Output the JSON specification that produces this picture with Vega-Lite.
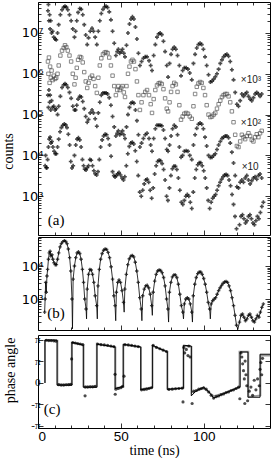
{
"$schema": "https://vega.github.io/schema/vega-lite/v6.json",
"padding": {"left": 0, "top": 1, "right": 4, "bottom": 2},
"background": "white",
"config": {
 "view": {"stroke": "black", "strokeWidth": 1},
 "axis": {"grid": false, "domain": false, "tickColor": "black", "tickWidth": 0.8, "labelColor": "black", "titleColor": "black", "labelFont": "Liberation Sans", "titleFont": "Liberation Serif", "labelFontSize": 13, "titleFontSize": 14, "titleFontWeight": "normal", "labelPadding": 1}
},
"datasets": {
 "c1": [{"t":6.0,"v":3.5e7,"c2":2.0e6,"c3":3.0e5},{"t":6.3,"v":5.0e7,"c2":1.0e6,"c3":1.5e5},{"t":6.6,"v":2.0e7,"c2":2.5e6,"c3":4.0e5},{"t":7.0,"v":2.8e7,"c2":6.0e5,"c3":2.0e5},{"t":7.3,"v":1.26e7,"c2":1.5e6,"c3":3.0e5},{"t":7.7,"v":2.0e7,"c2":8.0e5,"c3":1.3e5},{"t":8.2,"v":1.0e7,"c2":1.2e6,"c3":2.2e5},{"t":8.8,"v":1.1e7,"c2":7.0e5,"c3":1.5e5},{"t":9.5,"v":7.9e6,"c2":9.0e5,"c3":1.6e5},{"t":10.3,"v":7.1e6,"c2":7.5e5,"c3":1.3e5},{"t":11.0,"v":6.8e6,"c2":8.0e5,"c3":1.4e5},
 {"t":11.8,"v":1.0e7,"c2":1.0e6,"c3":1.0e5},{"t":12.5,"v":1.6e7,"c2":1.6e6,"c3":1.6e5},{"t":13.5,"v":2.8e7,"c2":2.8e6,"c3":2.8e5},{"t":14.5,"v":3.7e7,"c2":3.7e6,"c3":4.6e5},{"t":15.5,"v":4.3e7,"c2":4.3e6,"c3":5.4e5},{"t":16.3,"v":4.5e7,"c2":5.0e6,"c3":5.7e5},{"t":17.1,"v":4.3e7,"c2":4.5e6,"c3":5.4e5},{"t":18,"v":3.7e7,"c2":3.7e6,"c3":4.6e5},{"t":19,"v":2.8e7,"c2":2.8e6,"c3":3.5e5},{"t":20,"v":2.0e7,"c2":2.0e6,"c3":2.5e5},{"t":21,"v":1.26e7,"c2":1.0e6,"c3":1.6e5},{"t":22,"v":7.9e6,"c2":5.5e5,"c3":1.3e5},
 {"t":22.7,"v":1.1e7,"c2":8.0e5,"c3":1.3e5},{"t":23.4,"v":2.0e7,"c2":1.4e6,"c3":1.7e5},{"t":24.2,"v":3.2e7,"c2":2.2e6,"c3":2.4e5},{"t":25.2,"v":4.0e7,"c2":2.6e6,"c3":2.8e5},{"t":26.1,"v":3.8e7,"c2":2.5e6,"c3":2.7e5},{"t":27,"v":2.8e7,"c2":1.9e6,"c3":2.1e5},{"t":27.9,"v":1.6e7,"c2":1.1e6,"c3":1.4e5},{"t":28.8,"v":8.9e6,"c2":6.5e5,"c3":9.0e4},{"t":29.7,"v":5.2e6,"c2":4.5e5,"c3":6.5e4},
 {"t":30.5,"v":7.6e6,"c2":6.0e5,"c3":7.6e4},{"t":31.5,"v":1.1e7,"c2":8.0e5,"c3":1.1e5},{"t":32.6,"v":1.3e7,"c2":9.0e5,"c3":1.3e5},{"t":33.5,"v":1.1e7,"c2":7.5e5,"c3":1.1e5},{"t":34.5,"v":7.9e6,"c2":5.0e5,"c3":7.9e4},{"t":35.5,"v":5.2e6,"c2":3.4e5,"c3":5.2e4},
 {"t":36.4,"v":1.1e7,"c2":8.0e5,"c3":1.1e5},{"t":37.3,"v":2.0e7,"c2":1.6e6,"c3":2.0e5},{"t":38.2,"v":3.0e7,"c2":2.4e6,"c3":3.0e5},{"t":39.2,"v":3.8e7,"c2":3.0e6,"c3":3.4e5},{"t":40.2,"v":4.4e7,"c2":3.3e6,"c3":3.4e5},{"t":41.1,"v":4.5e7,"c2":3.4e6,"c3":3.4e5},{"t":42,"v":4.2e7,"c2":3.2e6,"c3":3.2e5},{"t":43,"v":3.3e7,"c2":2.5e6,"c3":2.6e5},{"t":44,"v":2.1e7,"c2":1.6e6,"c3":1.7e5},{"t":45,"v":1.1e7,"c2":9.0e5,"c3":9.0e4},{"t":46,"v":5.6e6,"c2":5.0e5,"c3":5.0e4},{"t":47,"v":2.8e6,"c2":3.0e5,"c3":3.0e4},
 {"t":47.8,"v":3.5e6,"c2":4.0e5,"c3":3.5e4},{"t":48.5,"v":4.0e6,"c2":5.0e5,"c3":4.0e4},{"t":49.3,"v":3.2e6,"c2":4.0e5,"c3":3.2e4},{"t":50.2,"v":3.5e6,"c2":4.5e5,"c3":3.5e4},{"t":51,"v":4.0e6,"c2":5.0e5,"c3":4.0e4},{"t":51.8,"v":3.2e6,"c2":3.5e5,"c3":3.2e4},{"t":52.5,"v":2.6e6,"c2":2.7e5,"c3":2.6e4},
 {"t":53.4,"v":5.0e6,"c2":5.0e5,"c3":5.0e4},{"t":54.3,"v":1.0e7,"c2":1.0e6,"c3":1.0e5},{"t":55.2,"v":1.66e7,"c2":1.5e6,"c3":1.5e5},{"t":56.1,"v":2.2e7,"c2":2.0e6,"c3":1.9e5},{"t":57,"v":2.5e7,"c2":2.2e6,"c3":2.0e5},{"t":57.9,"v":2.2e7,"c2":2.0e6,"c3":1.9e5},{"t":58.8,"v":1.4e7,"c2":1.3e6,"c3":1.3e5},{"t":59.7,"v":7.1e6,"c2":6.5e5,"c3":7.1e4},{"t":60.6,"v":3.2e6,"c2":3.0e5,"c3":3.2e4},{"t":61.5,"v":1.6e6,"c2":1.3e5,"c3":1.6e4},
 {"t":62.5,"v":2.0e6,"c2":2.0e5,"c3":2.0e4},{"t":63.6,"v":2.4e6,"c2":3.0e5,"c3":2.6e4},{"t":64.7,"v":2.6e6,"c2":3.6e5,"c3":3.2e4},{"t":65.8,"v":2.6e6,"c2":4.0e5,"c3":3.5e4},{"t":67,"v":2.1e6,"c2":3.0e5,"c3":2.6e4},{"t":68,"v":1.6e6,"c2":1.8e5,"c3":1.8e4},{"t":68.8,"v":1.2e6,"c2":1.1e5,"c3":1.26e4},
 {"t":69.8,"v":2.8e6,"c2":2.4e5,"c3":2.6e4},{"t":70.8,"v":5.2e6,"c2":4.0e5,"c3":4.5e4},{"t":71.8,"v":7.9e6,"c2":5.2e5,"c3":5.5e4},{"t":72.8,"v":9.5e6,"c2":5.8e5,"c3":5.5e4},{"t":73.7,"v":1.0e7,"c2":6.0e5,"c3":5.5e4},{"t":74.7,"v":9.1e6,"c2":5.6e5,"c3":5.3e4},{"t":75.7,"v":6.3e6,"c2":4.2e5,"c3":4.2e4},{"t":76.7,"v":3.5e6,"c2":2.5e5,"c3":2.6e4},{"t":77.7,"v":1.6e6,"c2":1.4e5,"c3":1.4e4},{"t":78.5,"v":8.3e5,"c2":1.2e5,"c3":1.26e4},
 {"t":79.4,"v":1.8e6,"c2":2.0e5,"c3":1.8e4},{"t":80.3,"v":3.0e6,"c2":3.6e5,"c3":3.0e4},{"t":81.2,"v":4.0e6,"c2":5.0e5,"c3":4.5e4},{"t":82.2,"v":4.5e6,"c2":6.0e5,"c3":5.5e4},{"t":83.2,"v":4.0e6,"c2":5.5e5,"c3":5.0e4},{"t":84.2,"v":2.8e6,"c2":3.6e5,"c3":3.2e4},{"t":85.3,"v":1.6e6,"c2":1.7e5,"c3":1.6e4},{"t":86.3,"v":8.9e5,"c2":7.5e4,"c3":9.0e3},
 {"t":87.3,"v":1.2e6,"c2":9.0e4,"c3":1.0e4},{"t":88.3,"v":1.4e6,"c2":1.05e5,"c3":1.26e4},{"t":89.4,"v":1.4e6,"c2":1.1e5,"c3":1.3e4},{"t":90.5,"v":1.3e6,"c2":1.05e5,"c3":1.26e4},{"t":91.6,"v":1.05e6,"c2":9.0e4,"c3":1.0e4},{"t":92.8,"v":7.1e5,"c2":7.9e4,"c3":7.9e3},
 {"t":93.8,"v":1.8e6,"c2":1.6e5,"c3":1.8e4},{"t":94.8,"v":3.0e6,"c2":3.2e5,"c3":3.2e4},{"t":95.8,"v":4.3e6,"c2":4.8e5,"c3":4.6e4},{"t":96.8,"v":5.2e6,"c2":5.8e5,"c3":5.8e4},{"t":97.8,"v":5.6e6,"c2":6.3e5,"c3":6.2e4},{"t":98.8,"v":5.2e6,"c2":6.0e5,"c3":5.8e4},{"t":99.8,"v":4.0e6,"c2":4.5e5,"c3":4.5e4},{"t":100.8,"v":2.6e6,"c2":3.0e5,"c3":2.8e4},{"t":101.8,"v":1.6e6,"c2":1.7e5,"c3":1.7e4},{"t":102.9,"v":9.5e5,"c2":1.0e5,"c3":1.0e4},{"t":104,"v":6.3e5,"c2":8.7e4,"c3":8.9e3},
 {"t":105,"v":6.6e5,"c2":9.0e4,"c3":9.0e3},{"t":106,"v":7.4e5,"c2":1.0e5,"c3":1.0e4},{"t":107,"v":8.5e5,"c2":1.1e5,"c3":1.1e4},{"t":108,"v":1.0e6,"c2":1.4e5,"c3":1.4e4},{"t":109,"v":1.3e6,"c2":1.8e5,"c3":1.8e4},{"t":110,"v":1.8e6,"c2":2.2e5,"c3":2.2e4},{"t":111,"v":2.2e6,"c2":2.7e5,"c3":2.6e4},{"t":112,"v":2.6e6,"c2":3.0e5,"c3":2.8e4},{"t":113,"v":2.9e6,"c2":3.2e5,"c3":3.0e4},{"t":114,"v":3.0e6,"c2":3.2e5,"c3":3.0e4},{"t":115,"v":2.7e6,"c2":2.8e5,"c3":2.7e4},{"t":116,"v":2.0e6,"c2":2.0e5,"c3":2.0e4},{"t":117,"v":1.26e6,"c2":1.2e5,"c3":1.2e4},{"t":118,"v":7.1e5,"c2":6.5e4,"c3":6.5e3},{"t":119,"v":3.5e5,"c2":3.2e4,"c3":3.2e3},{"t":120,"v":1.8e5,"c2":1.7e4,"c3":1.7e3},
 {"t":121,"v":1.6e5,"c2":1.6e4,"c3":1.6e3},{"t":122,"v":2.2e5,"c2":2.2e4,"c3":2.2e3},{"t":123,"v":3.2e5,"c2":3.2e4,"c3":2.5e3},{"t":124,"v":2.8e5,"c2":2.8e4,"c3":2.2e3},{"t":125,"v":3.2e5,"c2":2.5e4,"c3":2.8e3},{"t":126,"v":3.5e5,"c2":3.0e4,"c3":3.2e3},{"t":127,"v":2.8e5,"c2":3.5e4,"c3":2.5e3},{"t":128,"v":2.4e5,"c2":3.0e4,"c3":2.0e3},{"t":129,"v":2.2e5,"c2":2.4e4,"c3":2.4e3},{"t":130,"v":2.6e5,"c2":2.2e4,"c3":2.8e3},{"t":131,"v":3.2e5,"c2":2.8e4,"c3":3.0e3},{"t":132,"v":3.5e5,"c2":3.3e4,"c3":2.6e3},{"t":133,"v":3.2e5,"c2":2.8e4,"c3":3.2e3},{"t":134,"v":2.8e5,"c2":3.5e4,"c3":3.5e3},{"t":135,"v":3.2e5,"c2":4.0e4,"c3":2.8e3}],
 "d": [{"t":4.3,"v":5.6e3},{"t":4.6,"v":1.0e4},{"t":5.0,"v":5.0e3},{"t":5.4,"v":5.0e3},{"t":5.8,"v":7.9e3},{"t":6.3,"v":1.6e4},{"t":6.8,"v":2.5e4},{"t":7.3,"v":2.8e4},{"t":7.8,"v":2.0e4},{"t":8.4,"v":2.2e4},{"t":9.0,"v":1.6e4},{"t":9.7,"v":1.26e4},{"t":10.4,"v":1.1e4},{"t":11.1,"v":1.1e4},{"t":11.8,"v":1.6e4},{"t":12.5,"v":2.5e4},{"t":13.3,"v":3.8e4},{"t":14.1,"v":4.8e4},{"t":15,"v":5.5e4},{"t":15.9,"v":5.9e4},{"t":16.7,"v":5.6e4},{"t":17.5,"v":4.8e4},{"t":18.3,"v":3.3e4},{"t":19.1,"v":1.8e4},{"t":19.8,"v":7.1e3},{"t":20.5,"v":4.9e3},{"t":21.2,"v":5.6e3},{"t":22,"v":1.0e4},{"t":22.8,"v":1.8e4},{"t":23.6,"v":2.5e4},{"t":24.4,"v":2.7e4},{"t":25.2,"v":2.4e4},{"t":26,"v":1.6e4},{"t":26.8,"v":7.9e3},{"t":27.5,"v":5.6e3},{"t":28.2,"v":4.6e3},{"t":29,"v":4.4e3},{"t":29.7,"v":5.0e3},{"t":30.5,"v":5.6e3},{"t":31.3,"v":7.9e3},{"t":32.1,"v":7.6e3},{"t":32.9,"v":5.6e3},{"t":33.7,"v":4.2e3},{"t":34.5,"v":3.55e3},{"t":35.4,"v":3.3e3},{"t":36.2,"v":4.0e3},{"t":37,"v":7.9e3},{"t":37.8,"v":1.6e4},{"t":38.7,"v":2.4e4},{"t":39.6,"v":3.0e4},{"t":40.5,"v":3.3e4},{"t":41.4,"v":3.2e4},{"t":42.3,"v":2.6e4},{"t":43.2,"v":1.8e4},{"t":44.1,"v":9.5e3},{"t":45,"v":4.0e3},{"t":45.8,"v":3.2e3},{"t":46.5,"v":2.95e3},{"t":47.3,"v":3.2e3},{"t":48.1,"v":3.55e3},{"t":48.9,"v":3.8e3},{"t":49.8,"v":3.3e3},{"t":50.7,"v":2.8e3},{"t":51.6,"v":2.5e3},{"t":52.4,"v":3.0e3},{"t":53.3,"v":5.6e3},{"t":54.2,"v":1.1e4},{"t":55.1,"v":1.66e4},{"t":56,"v":2.0e4},{"t":56.9,"v":2.1e4},{"t":57.8,"v":1.9e4},{"t":58.7,"v":1.3e4},{"t":59.6,"v":7.1e3},{"t":60.5,"v":3.2e3},{"t":61.4,"v":1.26e3},{"t":62.3,"v":1.0e3},{"t":63.2,"v":1.4e3},{"t":64.1,"v":2.0e3},{"t":65,"v":2.5e3},{"t":65.9,"v":2.6e3},{"t":66.8,"v":2.2e3},{"t":67.7,"v":1.4e3},{"t":68.6,"v":8.9e2},{"t":69.5,"v":1.6e3},{"t":70.4,"v":3.5e3},{"t":71.3,"v":5.6e3},{"t":72.2,"v":7.1e3},{"t":73.1,"v":7.6e3},{"t":74,"v":7.4e3},{"t":74.9,"v":6.3e3},{"t":75.8,"v":4.5e3},{"t":76.7,"v":2.5e3},{"t":77.6,"v":1.0e3},{"t":78.4,"v":7.9e2},{"t":79.3,"v":1.6e3},{"t":80.2,"v":3.2e3},{"t":81.1,"v":4.7e3},{"t":82,"v":5.4e3},{"t":82.9,"v":5.4e3},{"t":83.8,"v":4.5e3},{"t":84.7,"v":2.8e3},{"t":85.6,"v":1.4e3},{"t":86.5,"v":7.1e2},{"t":87.4,"v":6.3e2},{"t":88.3,"v":7.9e2},{"t":89.2,"v":1.0e3},{"t":90.1,"v":1.1e3},{"t":91,"v":1.0e3},{"t":91.9,"v":7.1e2},{"t":92.8,"v":5.0e2},{"t":93.7,"v":1.26e3},{"t":94.6,"v":2.8e3},{"t":95.5,"v":4.5e3},{"t":96.4,"v":5.9e3},{"t":97.3,"v":6.6e3},{"t":98.2,"v":6.6e3},{"t":99.1,"v":5.6e3},{"t":100,"v":4.2e3},{"t":100.9,"v":2.8e3},{"t":101.8,"v":1.6e3},{"t":102.7,"v":7.9e2},{"t":103.6,"v":5.0e2},{"t":104.5,"v":7.1e2},{"t":105.4,"v":8.9e2},{"t":106.3,"v":1.0e3},{"t":107.2,"v":1.1e3},{"t":108.1,"v":1.4e3},{"t":109,"v":1.8e3},{"t":109.9,"v":2.2e3},{"t":110.8,"v":2.6e3},{"t":111.7,"v":3.0e3},{"t":112.6,"v":3.3e3},{"t":113.5,"v":3.4e3},{"t":114.4,"v":3.2e3},{"t":115.3,"v":2.5e3},{"t":116.2,"v":1.8e3},{"t":117.1,"v":1.1e3},{"t":118,"v":6.3e2},{"t":118.9,"v":3.2e2},{"t":119.8,"v":1.6e2},{"t":121.6,"v":2.0e2},{"t":122.5,"v":3.2e2},{"t":123.4,"v":3.5e2},{"t":124.3,"v":2.8e2},{"t":125.2,"v":2.2e2},{"t":126.1,"v":2.5e2},{"t":127,"v":3.2e2},{"t":127.9,"v":3.5e2},{"t":128.8,"v":2.8e2},{"t":129.7,"v":2.2e2},{"t":130.6,"v":2.0e2},{"t":131.5,"v":2.5e2},{"t":132.4,"v":3.2e2},{"t":133.3,"v":2.8e2},{"t":134.2,"v":4.0e2},{"t":135.1,"v":5.6e2},{"t":136,"v":7.1e2}],
 "b": [{"t":4.0,"v":4.0e2},{"t":4.3,"v":1.0e3},{"t":4.6,"v":3.2e3},{"t":5.0,"v":1.6e3},{"t":5.4,"v":5.0e3},{"t":5.8,"v":7.9e3},{"t":6.3,"v":1.6e4},{"t":6.8,"v":2.5e4},{"t":7.3,"v":2.8e4},{"t":7.8,"v":2.0e4},{"t":8.4,"v":2.2e4},{"t":9.0,"v":1.6e4},{"t":9.7,"v":1.26e4},{"t":10.4,"v":1.1e4},{"t":11.1,"v":1.1e4},{"t":11.8,"v":1.6e4},{"t":12.5,"v":2.5e4},{"t":13.3,"v":3.8e4},{"t":14.1,"v":4.8e4},{"t":15,"v":5.5e4},{"t":15.9,"v":5.9e4},{"t":16.7,"v":5.6e4},{"t":17.5,"v":4.8e4},{"t":18.3,"v":3.3e4},{"t":19.1,"v":1.8e4},{"t":19.8,"v":7.1e3},{"t":20.5,"v":1.0e3},{"t":20.8,"v":1.25e2,"k":"f"},{"t":21.2,"v":4.0e3},{"t":22,"v":1.0e4},{"t":22.8,"v":1.8e4},{"t":23.6,"v":2.5e4},{"t":24.4,"v":2.7e4},{"t":25.2,"v":2.4e4},{"t":26,"v":1.6e4},{"t":26.8,"v":7.9e3},{"t":27.5,"v":3.2e3},{"t":28.2,"v":1.0e3},{"t":29,"v":5.0e2},{"t":29.3,"v":2.5e2,"k":"f"},{"t":29.7,"v":2.0e3},{"t":30.5,"v":5.6e3},{"t":31.3,"v":7.9e3},{"t":32.1,"v":7.6e3},{"t":32.9,"v":5.6e3},{"t":33.7,"v":3.2e3},{"t":34.5,"v":1.26e3},{"t":35.4,"v":6.3e2},{"t":35.8,"v":2.5e2,"k":"f"},{"t":36.2,"v":2.5e3},{"t":37,"v":7.9e3},{"t":37.8,"v":1.6e4},{"t":38.7,"v":2.4e4},{"t":39.6,"v":3.0e4},{"t":40.5,"v":3.3e4},{"t":41.4,"v":3.2e4},{"t":42.3,"v":2.6e4},{"t":43.2,"v":1.8e4},{"t":44.1,"v":9.5e3},{"t":45,"v":4.0e3},{"t":45.8,"v":1.26e3},{"t":46.5,"v":6.3e2},{"t":46.9,"v":2.2e2,"k":"f"},{"t":47.3,"v":1.6e3},{"t":48.1,"v":3.2e3},{"t":48.9,"v":3.8e3},{"t":49.8,"v":3.2e3},{"t":50.7,"v":1.8e3},{"t":51.6,"v":7.9e2},{"t":52.0,"v":4.0e2,"k":"f"},{"t":52.4,"v":2.0e3},{"t":53.3,"v":5.6e3},{"t":54.2,"v":1.1e4},{"t":55.1,"v":1.66e4},{"t":56,"v":2.0e4},{"t":56.9,"v":2.1e4},{"t":57.8,"v":1.9e4},{"t":58.7,"v":1.3e4},{"t":59.6,"v":7.1e3},{"t":60.5,"v":3.2e3},{"t":61.4,"v":1.1e3},{"t":62.3,"v":5.0e2},{"t":62.7,"v":2.2e2,"k":"f"},{"t":63.2,"v":1.26e3},{"t":64.1,"v":2.0e3},{"t":65,"v":2.5e3},{"t":65.9,"v":2.6e3},{"t":66.8,"v":2.2e3},{"t":67.7,"v":1.4e3},{"t":68.6,"v":6.3e2},{"t":69.0,"v":3.2e2,"k":"f"},{"t":69.5,"v":1.6e3},{"t":70.4,"v":3.5e3},{"t":71.3,"v":5.6e3},{"t":72.2,"v":7.1e3},{"t":73.1,"v":7.6e3},{"t":74,"v":7.4e3},{"t":74.9,"v":6.3e3},{"t":75.8,"v":4.5e3},{"t":76.7,"v":2.5e3},{"t":77.6,"v":1.0e3},{"t":78.4,"v":5.0e2},{"t":78.8,"v":2.0e2,"k":"f"},{"t":79.3,"v":1.6e3},{"t":80.2,"v":3.2e3},{"t":81.1,"v":4.7e3},{"t":82,"v":5.4e3},{"t":82.9,"v":5.4e3},{"t":83.8,"v":4.5e3},{"t":84.7,"v":2.8e3},{"t":85.6,"v":1.4e3},{"t":86.5,"v":6.3e2},{"t":87.4,"v":4.0e2},{"t":87.8,"v":2.5e2,"k":"f"},{"t":88.3,"v":7.1e2},{"t":89.2,"v":1.0e3},{"t":90.1,"v":1.1e3},{"t":91,"v":1.0e3},{"t":91.9,"v":7.1e2},{"t":92.8,"v":4.0e2},{"t":93.2,"v":2.0e2,"k":"f"},{"t":93.7,"v":1.26e3},{"t":94.6,"v":2.8e3},{"t":95.5,"v":4.5e3},{"t":96.4,"v":5.9e3},{"t":97.3,"v":6.6e3},{"t":98.2,"v":6.6e3},{"t":99.1,"v":5.6e3},{"t":100,"v":4.2e3},{"t":100.9,"v":2.8e3},{"t":101.8,"v":1.6e3},{"t":102.7,"v":7.9e2},{"t":103.6,"v":5.0e2},{"t":104.0,"v":2.5e2,"k":"f"},{"t":104.5,"v":7.1e2},{"t":105.4,"v":8.9e2},{"t":106.3,"v":1.0e3},{"t":107.2,"v":1.1e3},{"t":108.1,"v":1.4e3},{"t":109,"v":1.8e3},{"t":109.9,"v":2.2e3},{"t":110.8,"v":2.6e3},{"t":111.7,"v":3.0e3},{"t":112.6,"v":3.3e3},{"t":113.5,"v":3.4e3},{"t":114.4,"v":3.2e3},{"t":115.3,"v":2.5e3},{"t":116.2,"v":1.8e3},{"t":117.1,"v":1.1e3},{"t":118,"v":6.3e2},{"t":118.9,"v":3.2e2},{"t":119.8,"v":1.6e2},{"t":120.6,"v":1.2e2,"k":"f"},{"t":121.6,"v":2.0e2},{"t":122.5,"v":3.2e2},{"t":123.4,"v":3.5e2},{"t":124.3,"v":2.8e2},{"t":125.2,"v":2.2e2},{"t":126.1,"v":2.5e2},{"t":127,"v":3.2e2},{"t":127.9,"v":3.5e2},{"t":128.8,"v":2.8e2},{"t":129.7,"v":2.2e2},{"t":130.6,"v":2.0e2},{"t":131.5,"v":2.5e2},{"t":132.4,"v":3.2e2},{"t":133.3,"v":2.8e2},{"t":134.2,"v":4.0e2},{"t":135.1,"v":5.6e2},{"t":136,"v":7.1e2}],
 "cline": [{"t":4.2,"p":0},{"t":4.2,"p":3.14},{"t":11.5,"p":3.14},{"t":11.5,"p":-0.16},{"t":20.5,"p":-0.16},{"t":20.5,"p":2.98},{"t":27.3,"p":2.76},{"t":27.3,"p":-0.31},{"t":35.6,"p":-0.31},{"t":35.6,"p":2.83},{"t":46.5,"p":2.64},{"t":46.5,"p":-0.41},{"t":51.4,"p":-0.25},{"t":51.4,"p":2.83},{"t":62,"p":2.64},{"t":62,"p":-0.5},{"t":69,"p":-0.35},{"t":69,"p":2.76},{"t":78,"p":2.26},{"t":78,"p":-0.47},{"t":87.7,"p":-0.38},{"t":87.7,"p":2.76},{"t":92.5,"p":2.7},{"t":92.5,"p":-0.94},{"t":95,"p":-0.63},{"t":97,"p":-0.47},{"t":100,"p":-0.31},{"t":103,"p":-0.63},{"t":106,"p":-1.1},{"t":109,"p":-0.94},{"t":112,"p":-0.79},{"t":115,"p":-0.63},{"t":118,"p":-0.47},{"t":121,"p":-0.31},{"t":122,"p":-0.31},{"t":122,"p":2.26},{"t":126.7,"p":2.26},{"t":126.7,"p":-1.04},{"t":134,"p":-1.04},{"t":134,"p":2.1},{"t":140,"p":2.1}],
 "cgray": [{"t":4.2,"p":0},{"t":4.2,"p":3.1},{"t":11.8,"p":3.1},{"t":11.8,"p":-0.1},{"t":20.3,"p":-0.1},{"t":20.3,"p":2.95},{"t":27.6,"p":2.8},{"t":27.6,"p":-0.25},{"t":35.4,"p":-0.25},{"t":35.4,"p":2.88},{"t":46.8,"p":2.6},{"t":46.8,"p":-0.35},{"t":51.6,"p":-0.3},{"t":51.6,"p":2.8},{"t":62.2,"p":2.6},{"t":62.2,"p":-0.45},{"t":69.2,"p":-0.3},{"t":69.2,"p":2.7},{"t":78.2,"p":2.3},{"t":78.2,"p":-0.45},{"t":87.9,"p":-0.35},{"t":87.9,"p":2.7},{"t":92.7,"p":2.65},{"t":92.7,"p":-0.7},{"t":100,"p":-0.4},{"t":106,"p":-0.95},{"t":112,"p":-0.75},{"t":121.5,"p":-0.35},{"t":121.5,"p":2.3},{"t":127,"p":2.3},{"t":127,"p":-1.0},{"t":134.3,"p":-0.9},{"t":134.3,"p":2.0},{"t":140,"p":2.0}],
 "cdots": [{"t":5,"p":3.12},{"t":6.5,"p":3.1},{"t":8,"p":3.1},{"t":9.5,"p":3.08},{"t":10.8,"p":3.05},{"t":12.5,"p":-0.12},{"t":14,"p":-0.15},{"t":15.5,"p":-0.15},{"t":17,"p":-0.13},{"t":18.5,"p":-0.12},{"t":19.8,"p":-0.1},{"t":20.3,"p":1.76},{"t":21,"p":2.95},{"t":22.5,"p":2.92},{"t":24,"p":2.88},{"t":25.5,"p":2.85},{"t":27,"p":2.8},{"t":28.4,"p":-0.94},{"t":28.5,"p":-0.3},{"t":30,"p":-0.3},{"t":31.5,"p":-0.28},{"t":33,"p":-0.28},{"t":34.5,"p":-0.25},{"t":36,"p":2.85},{"t":38,"p":2.8},{"t":40,"p":2.78},{"t":42,"p":2.75},{"t":44,"p":2.7},{"t":45.8,"p":2.66},{"t":46.5,"p":0.63},{"t":46.6,"p":-0.82},{"t":47,"p":-0.45},{"t":48.5,"p":-0.4},{"t":50,"p":-0.35},{"t":51,"p":-0.25},{"t":51.9,"p":0.5},{"t":52.5,"p":2.8},{"t":54.5,"p":2.78},{"t":56.5,"p":2.75},{"t":58.5,"p":2.7},{"t":60.5,"p":2.66},{"t":62.5,"p":-0.5},{"t":64,"p":-0.48},{"t":65.5,"p":-0.45},{"t":67,"p":-0.4},{"t":68.5,"p":-0.35},{"t":69.5,"p":2.75},{"t":71.5,"p":2.6},{"t":73.5,"p":2.5},{"t":75.5,"p":2.4},{"t":77.5,"p":2.3},{"t":79,"p":-0.47},{"t":81,"p":-0.45},{"t":83,"p":-0.42},{"t":85,"p":-0.4},{"t":87,"p":-0.38},{"t":88,"p":2.6},{"t":88.5,"p":2.2},{"t":89.5,"p":2.45},{"t":90.5,"p":2.0},{"t":91,"p":2.7},{"t":91.8,"p":1.9},{"t":87.5,"p":-1.38},{"t":93,"p":-1.5},{"t":94,"p":-0.6},{"t":95.5,"p":-0.55},{"t":97,"p":-0.45},{"t":98.5,"p":-0.4},{"t":100,"p":-0.35},{"t":101.5,"p":-0.45},{"t":103,"p":-0.65},{"t":104.5,"p":-0.9},{"t":106,"p":-1.1},{"t":107.5,"p":-1.0},{"t":109,"p":-0.95},{"t":110.5,"p":-0.85},{"t":112,"p":-0.8},{"t":113.5,"p":-0.7},{"t":115,"p":-0.65},{"t":116.5,"p":-0.55},{"t":118,"p":-0.5},{"t":119.5,"p":-0.4},{"t":121,"p":-0.3},{"t":122.5,"p":2.2},{"t":123,"p":1.9},{"t":123.5,"p":1.4},{"t":124,"p":0.9},{"t":124.5,"p":0.3},{"t":125,"p":1.6},{"t":125.5,"p":0.6},{"t":126,"p":-0.2},{"t":121.8,"p":-1.15},{"t":124.8,"p":-1.5},{"t":126.5,"p":-1.3},{"t":127.5,"p":-0.6},{"t":128.5,"p":-0.3},{"t":129.5,"p":-0.9},{"t":130.5,"p":0.2},{"t":131.5,"p":-0.5},{"t":132.5,"p":0.3},{"t":133.5,"p":-0.2},{"t":134,"p":1.0},{"t":134.5,"p":1.5},{"t":135,"p":0.6},{"t":135.5,"p":1.8}],
 "labA": [{"t":10.9,"v":263,"s":"(a)"}],
 "labS": [{"t":128.5,"v":7.0e5,"s":"×10³"},{"t":128.5,"v":6.2e4,"s":"×10²"},{"t":128,"v":5.2e3,"s":"×10"}],
 "labB": [{"t":10.9,"v":380,"s":"(b)"}],
 "labC": [{"t":8.5,"p":-1.89,"s":"(c)"}]
},
"vconcat": [
 {
  "width": 232, "height": 233,
  "resolve": {"axis": {"x": "independent", "y": "independent"}},
  "layer": [
   {"data": {"name": "c1"}, "transform": [{"fold": ["v", "c3"], "as": ["s", "y"]}], "mark": {"type": "point", "shape": "cross", "filled": true, "size": 16, "color": "black"},
    "encoding": {
     "x": {"field": "t", "type": "quantitative", "scale": {"domain": [0, 140], "nice": false, "zero": false}, "axis": {"orient": "bottom", "values": [0, 50, 100], "labels": false, "tickSize": -5, "title": null}},
     "y": {"field": "y", "type": "quantitative", "scale": {"type": "log", "domain": [112, 5.75e7], "nice": false}, "axis": {"orient": "left", "values": [1e3, 1e4, 1e5, 1e6, 1e7], "tickSize": -5, "labelFont": "DejaVu Sans", "labelFontSize": 13, "labelPadding": 0, "labelExpr": "datum.value == 1e7 ? '10⁷' : datum.value == 1e6 ? '10⁶' : datum.value == 1e5 ? '10⁵' : datum.value == 1e4 ? '10⁴' : datum.value == 1e3 ? '10³' : ''", "title": "counts", "titleX": -23, "titleY": 149}}}},
   {"data": {"name": "d"}, "mark": {"type": "point", "shape": "cross", "filled": true, "size": 16, "color": "black"},
    "encoding": {
     "x": {"field": "t", "type": "quantitative", "scale": {"domain": [0, 140], "nice": false, "zero": false}, "axis": {"orient": "bottom", "values": [10,20,30,40,60,70,80,90,110,120,130], "labels": false, "tickSize": -3, "title": null}},
     "y": {"field": "v", "type": "quantitative", "scale": {"type": "log", "domain": [112, 5.75e7], "nice": false}, "axis": {"orient": "left", "values": [200,300,400,500,600,700,800,900,2000,3000,4000,5000,6000,7000,8000,9000,2e4,3e4,4e4,5e4,6e4,7e4,8e4,9e4,2e5,3e5,4e5,5e5,6e5,7e5,8e5,9e5,2e6,3e6,4e6,5e6,6e6,7e6,8e6,9e6,2e7,3e7,4e7,5e7], "labels": false, "tickSize": -3, "title": null}}}},
   {"data": {"name": "c1"}, "mark": {"type": "point", "shape": "square", "filled": false, "size": 12, "strokeWidth": 0.9, "color": "#444"},
    "encoding": {
     "x": {"field": "t", "type": "quantitative", "scale": {"domain": [0, 140], "nice": false, "zero": false}, "axis": {"orient": "top", "values": [0, 50, 100], "labels": false, "tickSize": -5, "title": null}},
     "y": {"field": "c2", "type": "quantitative", "scale": {"type": "log", "domain": [112, 5.75e7], "nice": false}, "axis": {"orient": "right", "values": [1e3, 1e4, 1e5, 1e6, 1e7], "labels": false, "tickSize": -5, "title": null}}}},
   {"data": {"name": "c1"}, "mark": {"type": "point", "opacity": 0},
    "encoding": {
     "x": {"field": "t", "type": "quantitative", "scale": {"domain": [0, 140], "nice": false, "zero": false}, "axis": {"orient": "top", "values": [10,20,30,40,60,70,80,90,110,120,130], "labels": false, "tickSize": -3, "title": null}},
     "y": {"field": "v", "type": "quantitative", "scale": {"type": "log", "domain": [112, 5.75e7], "nice": false}, "axis": {"orient": "right", "values": [200,300,400,500,600,700,800,900,2000,3000,4000,5000,6000,7000,8000,9000,2e4,3e4,4e4,5e4,6e4,7e4,8e4,9e4,2e5,3e5,4e5,5e5,6e5,7e5,8e5,9e5,2e6,3e6,4e6,5e6,6e6,7e6,8e6,9e6,2e7,3e7,4e7,5e7], "labels": false, "tickSize": -3, "title": null}}}},
   {"data": {"name": "labA"}, "mark": {"type": "text", "font": "Liberation Serif", "fontSize": 15, "color": "black"},
    "encoding": {
     "x": {"field": "t", "type": "quantitative", "scale": {"domain": [0, 140], "nice": false, "zero": false}, "axis": null},
     "y": {"field": "v", "type": "quantitative", "scale": {"type": "log", "domain": [112, 5.75e7], "nice": false}, "axis": null},
     "text": {"field": "s"}}},
   {"data": {"name": "labS"}, "mark": {"type": "text", "font": "Liberation Sans", "fontSize": 10, "color": "#222"},
    "encoding": {
     "x": {"field": "t", "type": "quantitative", "scale": {"domain": [0, 140], "nice": false, "zero": false}, "axis": null},
     "y": {"field": "v", "type": "quantitative", "scale": {"type": "log", "domain": [112, 5.75e7], "nice": false}, "axis": null},
     "text": {"field": "s"}}}
  ]
 },
 {
  "width": 232, "height": 93,
  "resolve": {"axis": {"x": "independent", "y": "independent"}},
  "layer": [
   {"data": {"name": "b"}, "mark": {"type": "line", "color": "black", "strokeWidth": 0.8},
    "encoding": {
     "x": {"field": "t", "type": "quantitative", "scale": {"domain": [0, 140], "nice": false, "zero": false}, "axis": {"orient": "bottom", "values": [0, 50, 100], "labels": false, "tickSize": -5, "title": null}},
     "y": {"field": "v", "type": "quantitative", "scale": {"type": "log", "domain": [115, 7.6e4], "nice": false}, "axis": {"orient": "left", "values": [1e3, 1e4], "tickSize": -5, "labelFont": "DejaVu Sans", "labelFontSize": 13, "labelPadding": 0, "labelExpr": "datum.value == 1e4 ? '10⁴' : datum.value == 1e3 ? '10³' : ''", "title": null}}}},
   {"data": {"name": "b"}, "transform": [{"filter": "datum.k != 'f'"}], "mark": {"type": "point", "shape": "cross", "filled": true, "size": 12, "color": "black"},
    "encoding": {
     "x": {"field": "t", "type": "quantitative", "scale": {"domain": [0, 140], "nice": false, "zero": false}, "axis": {"orient": "bottom", "values": [10,20,30,40,60,70,80,90,110,120,130], "labels": false, "tickSize": -3, "title": null}},
     "y": {"field": "v", "type": "quantitative", "scale": {"type": "log", "domain": [115, 7.6e4], "nice": false}, "axis": {"orient": "left", "values": [200,300,400,500,600,700,800,900,2000,3000,4000,5000,6000,7000,8000,9000,2e4,3e4,4e4,5e4,6e4,7e4], "labels": false, "tickSize": -3, "title": null}}}},
   {"data": {"name": "b"}, "mark": {"type": "point", "opacity": 0},
    "encoding": {
     "x": {"field": "t", "type": "quantitative", "scale": {"domain": [0, 140], "nice": false, "zero": false}, "axis": null},
     "y": {"field": "v", "type": "quantitative", "scale": {"type": "log", "domain": [115, 7.6e4], "nice": false}, "axis": {"orient": "right", "values": [1e3, 1e4], "labels": false, "tickSize": -5, "title": null}}}},
   {"data": {"name": "b"}, "mark": {"type": "point", "opacity": 0},
    "encoding": {
     "x": {"field": "t", "type": "quantitative", "scale": {"domain": [0, 140], "nice": false, "zero": false}, "axis": null},
     "y": {"field": "v", "type": "quantitative", "scale": {"type": "log", "domain": [115, 7.6e4], "nice": false}, "axis": {"orient": "right", "values": [200,300,400,500,600,700,800,900,2000,3000,4000,5000,6000,7000,8000,9000,2e4,3e4,4e4,5e4,6e4,7e4], "labels": false, "tickSize": -3, "title": null}}}},
   {"data": {"name": "labB"}, "mark": {"type": "text", "font": "Liberation Serif", "fontSize": 15, "color": "black"},
    "encoding": {
     "x": {"field": "t", "type": "quantitative", "scale": {"domain": [0, 140], "nice": false, "zero": false}, "axis": null},
     "y": {"field": "v", "type": "quantitative", "scale": {"type": "log", "domain": [115, 7.6e4], "nice": false}, "axis": null},
     "text": {"field": "s"}}}
  ]
 },
 {
  "width": 232, "height": 93,
  "resolve": {"axis": {"x": "independent", "y": "independent"}},
  "layer": [
   {"data": {"name": "cgray"}, "mark": {"type": "line", "color": "#999", "strokeWidth": 1.6},
    "encoding": {
     "order": {"value": null},
     "x": {"field": "t", "type": "quantitative", "scale": {"domain": [0, 140], "nice": false, "zero": false}, "axis": {"orient": "bottom", "values": [0, 50, 100], "tickSize": -5, "labelPadding": 6, "labelFontSize": 13.5, "title": "time (ns)", "titlePadding": 1}},
     "y": {"field": "p", "type": "quantitative", "scale": {"domain": [-3.288, 3.506], "nice": false, "zero": false}, "axis": {"orient": "left", "values": [-3.14159, -1.5708, 0, 1.5708, 3.14159], "tickSize": -5, "labelFont": "Liberation Serif", "labelFontSize": 11, "labelPadding": 3, "labelExpr": "datum.value > 1 ? 'π' : datum.value < -1 ? '-π' : datum.value == 0 ? '0' : ''", "title": "phase angle", "titleX": -21, "titleY": 35}}}},
   {"data": {"name": "cline"}, "mark": {"type": "line", "color": "black", "strokeWidth": 1},
    "encoding": {
     "order": {"value": null},
     "x": {"field": "t", "type": "quantitative", "scale": {"domain": [0, 140], "nice": false, "zero": false}, "axis": {"orient": "bottom", "values": [10,20,30,40,60,70,80,90,110,120,130], "labels": false, "tickSize": -3, "title": null}},
     "y": {"field": "p", "type": "quantitative", "scale": {"domain": [-3.288, 3.506], "nice": false, "zero": false}, "axis": {"orient": "right", "values": [-3.14159, -1.5708, 0, 1.5708, 3.14159], "labels": false, "tickSize": -5, "title": null}}}},
   {"data": {"name": "cdots"}, "mark": {"type": "point", "shape": "circle", "filled": true, "size": 10, "color": "black"},
    "encoding": {
     "x": {"field": "t", "type": "quantitative", "scale": {"domain": [0, 140], "nice": false, "zero": false}, "axis": null},
     "y": {"field": "p", "type": "quantitative", "scale": {"domain": [-3.288, 3.506], "nice": false, "zero": false}, "axis": null}}},
   {"data": {"name": "labC"}, "mark": {"type": "text", "font": "Liberation Serif", "fontSize": 15, "color": "black"},
    "encoding": {
     "x": {"field": "t", "type": "quantitative", "scale": {"domain": [0, 140], "nice": false, "zero": false}, "axis": null},
     "y": {"field": "p", "type": "quantitative", "scale": {"domain": [-3.288, 3.506], "nice": false, "zero": false}, "axis": null},
     "text": {"field": "s"}}}
  ]
 }
],
"spacing": 0
}
